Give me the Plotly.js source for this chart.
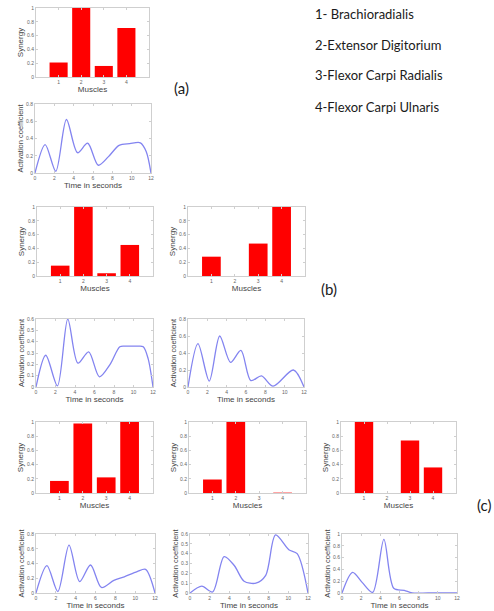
<!DOCTYPE html>
<html>
<head>
<meta charset="utf-8">
<script src="https://cdn.plot.ly/plotly-3.0.1.min.js"></script>
<style>html,body{margin:0;padding:0;background:#fff;}#chart{width:494px;height:611px;}</style>
</head>
<body>
<div id="chart"></div>
<script>
// ---- data ----
const muscles = [1, 2, 3, 4];
const synA  = [0.21, 1.0, 0.16, 0.71];
const synB1 = [0.15, 1.0, 0.04, 0.45];
const synB2 = [0.28, 0.0, 0.47, 1.0];
const synC1 = [0.17, 0.98, 0.22, 1.0];
const synC2 = [0.19, 1.0, 0.0, 0.005];
const synC3 = [1.0, 0.0, 0.74, 0.36];

const tA  = [0, 1.05, 2.15, 3.25, 4.4, 5.45, 6.55, 7.6, 8.7, 9.8, 10.9, 11.5, 12];
const vA  = [0, 0.33, 0.02, 0.62, 0.235, 0.345, 0.09, 0.19, 0.32, 0.34, 0.35, 0.25, 0];
const tB1 = [0, 1.0, 2.2, 3.26, 4.3, 5.4, 6.5, 7.6, 8.6, 9.2, 10.4, 11.0, 11.5, 12];
const vB1 = [0, 0.28, 0.01, 0.6, 0.21, 0.31, 0.09, 0.2, 0.355, 0.36, 0.36, 0.355, 0.25, 0];
const tB2 = [0, 1.03, 2.2, 3.28, 4.4, 5.47, 6.5, 7.6, 8.8, 10.9, 12];
const vB2 = [0, 0.51, 0.07, 0.6, 0.29, 0.43, 0.075, 0.13, 0.01, 0.2, 0];
const tC1 = [0, 1.1, 2.2, 3.33, 4.4, 5.5, 6.6, 7.85, 8.9, 10.2, 11.05, 12];
const vC1 = [0, 0.37, 0.02, 0.65, 0.155, 0.38, 0.075, 0.17, 0.22, 0.29, 0.32, 0];
const tC2 = [0, 1.2, 2.3, 3.47, 4.5, 5.5, 6.7, 7.7, 8.7, 10.05, 10.9, 12];
const vC2 = [0, 0.07, 0.01, 0.37, 0.28, 0.12, 0.1, 0.18, 0.59, 0.44, 0.4, 0];
const tC3 = [0, 1.1, 2.1, 3.2, 4.37, 5.4, 6.5, 7.3, 9, 12];
const vC3 = [0, 0.35, 0.18, 0.01, 0.91, 0.08, 0.045, 0.002, 0, 0];

const muscleNames = ["1- Brachioradialis", "2-Extensor Digitorium", "3-Flexor Carpi Radialis", "4-Flexor Carpi Ulnaris"];
const panelLabels = ["(a)", "(b)", "(c)"];

// ---- layout of panels (pixel boxes: left, right, top, bottom) ----
const W = 494, H = 611;
const panels = [
  {kind: 'bar',  y: synA,  box: [36, 149, 8, 77]},
  {kind: 'line', x: tA,  y: vA,  ymax: 0.8, dy: 0.2, box: [35, 151, 104, 173]},
  {kind: 'bar',  y: synB1, box: [37, 153, 207, 276]},
  {kind: 'bar',  y: synB2, box: [188, 305, 207, 276]},
  {kind: 'line', x: tB1, y: vB1, ymax: 0.6, dy: 0.1, box: [36, 153, 319, 387]},
  {kind: 'line', x: tB2, y: vB2, ymax: 0.8, dy: 0.2, box: [188, 304, 319, 387]},
  {kind: 'bar',  y: synC1, box: [36, 153, 422, 493]},
  {kind: 'bar',  y: synC2, box: [189, 306, 422, 493]},
  {kind: 'bar',  y: synC3, box: [341, 456, 422, 493]},
  {kind: 'line', x: tC1, y: vC1, ymax: 0.8, dy: 0.2, box: [36, 155, 534, 593]},
  {kind: 'line', x: tC2, y: vC2, ymax: 0.6, dy: 0.1, box: [190, 308, 534, 593]},
  {kind: 'line', x: tC3, y: vC3, ymax: 1.0, dy: 0.2, box: [342, 457, 534, 593]}
];

const FONT = 'Liberation Sans, Arial, sans-serif';
const axisBase = {
  showline: true, mirror: 'ticks', linecolor: '#cfcfcf', linewidth: 1,
  ticks: 'inside', ticklen: 2, tickcolor: '#cfcfcf',
  showgrid: false, zeroline: false,
  tickfont: {family: FONT, size: 5, color: '#666'}
};
const titleFont = {family: FONT, size: 8, color: '#444'};

const data = [];
const layout = {
  width: W, height: H,
  margin: {l: 0, r: 0, t: 0, b: 0},
  paper_bgcolor: '#fff', plot_bgcolor: '#fff',
  showlegend: false,
  annotations: []
};

panels.forEach((p, i) => {
  const n = i + 1;
  const xa = 'x' + (n === 1 ? '' : n), ya = 'y' + (n === 1 ? '' : n);
  const xk = 'xaxis' + (n === 1 ? '' : n), yk = 'yaxis' + (n === 1 ? '' : n);
  const [l, r, t, b] = p.box;
  const xdom = [l / W, r / W], ydom = [1 - b / H, 1 - t / H];
  if (p.kind === 'bar') {
    data.push({type: 'bar', x: muscles, y: p.y, xaxis: xa, yaxis: ya, width: 0.8,
      marker: {color: '#ff0000', line: {width: 0}}});
    layout[xk] = Object.assign({}, axisBase, {domain: xdom, anchor: ya, range: [0, 5],
      tickvals: muscles, ticktext: muscles.map(String),
      title: {text: 'Muscles', font: titleFont, standoff: 1}});
    layout[yk] = Object.assign({}, axisBase, {domain: ydom, anchor: xa, range: [0, 1], dtick: 0.2,
      title: {text: 'Synergy', font: titleFont, standoff: 2}});
  } else {
    data.push({type: 'scatter', mode: 'lines', x: p.x, y: p.y, xaxis: xa, yaxis: ya,
      line: {color: '#8384f0', width: 1.3, shape: 'spline', smoothing: 0.85}});
    layout[xk] = Object.assign({}, axisBase, {domain: xdom, anchor: ya, range: [0, 12], dtick: 2,
      title: {text: 'Time in seconds', font: titleFont, standoff: 1}});
    layout[yk] = Object.assign({}, axisBase, {domain: ydom, anchor: xa, range: [0, p.ymax], dtick: p.dy,
      title: {text: 'Activation coefficient', font: {family: FONT, size: 7.5, color: '#444'}, standoff: 1}});
  }
});

// legend of muscle names
const legendY = [14, 45, 75, 107];
muscleNames.forEach((s, k) => {
  layout.annotations.push({xref: 'paper', yref: 'paper', x: 313 / W, y: 1 - legendY[k] / H,
    xanchor: 'left', yanchor: 'middle', showarrow: false, text: s,
    font: {family: 'Lato, Open Sans, sans-serif', size: 13, color: '#1a1a1a'}});
});
// panel labels
const labelPos = [[181, 88], [329, 289], [484, 505]];
panelLabels.forEach((s, k) => {
  layout.annotations.push({xref: 'paper', yref: 'paper', x: labelPos[k][0] / W, y: 1 - labelPos[k][1] / H,
    xanchor: 'center', yanchor: 'middle', showarrow: false, text: s,
    font: {family: 'Lato, Open Sans, sans-serif', size: 15, color: '#1a1a1a'}});
});

Plotly.newPlot('chart', data, layout, {staticPlot: true, displayModeBar: false});
</script>
</body>
</html>
